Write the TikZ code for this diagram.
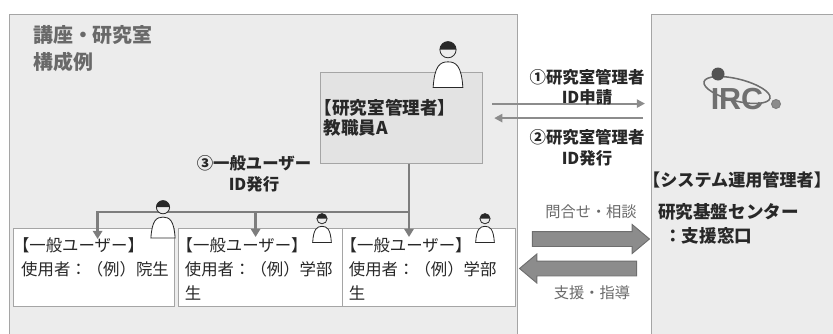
\documentclass[tikz,border=0pt]{standalone}
\usepackage{fontspec}
\setmainfont{Noto Sans CJK JP}
\newfontfamily\logofont{Liberation Sans}
\usepackage{xcolor}
\usepackage{tikz}
\usetikzlibrary{positioning,calc,shapes.arrows,arrows.meta}
\definecolor{roomgray}{RGB}{236,236,236}
\definecolor{edgegray}{RGB}{165,165,165}
\definecolor{linegray}{RGB}{125,125,125}
\definecolor{inkgray}{RGB}{40,40,40}
\definecolor{softgray}{RGB}{105,105,105}
\definecolor{arrowgray}{RGB}{140,140,140}
\definecolor{darkarrow}{RGB}{110,110,110}
\newcommand\lbr{\hspace*{-.5em}【}

\begin{document}
\begin{tikzpicture}[x=0.03cm, y=-0.03cm,
    room/.style = {draw=edgegray, fill=roomgray, line width=1pt, anchor=north west, inner sep=0pt},
    mgrbox/.style = {draw=edgegray, fill=roomgray!96!black, line width=1pt, anchor=north west,
        minimum width=4.86cm, minimum height=2.73cm, text width=4.68cm, inner sep=0.09cm,
        align=left, font=\fontsize{15}{17}\selectfont\bfseries, text=inkgray},
    userbox/.style = {draw=edgegray, fill=white, line width=1pt, anchor=north west,
        minimum height=2.34cm, inner sep=0pt},
    usertext/.style = {inner sep=0pt, align=left, font=\fontsize{14}{20.5}\selectfont, text=inkgray},
    tag/.style = {align=center, inner sep=0pt, font=\fontsize{14}{17.5}\selectfont\bfseries, text=inkgray},
    note/.style = {inner sep=0pt, font=\fontsize{13}{15}\selectfont, text=softgray},
    link/.style = {draw=linegray, line width=2.4pt},
    feed/.style = {link, -{Triangle[length=7pt, width=8pt]}},
    idline/.style = {draw=arrowgray, line width=1.7pt, -{Triangle[length=7pt, width=7pt]}},
    fat/.style = {single arrow, draw=darkarrow, fill=arrowgray, line width=0.8pt,
        inner sep=0.21cm, minimum height=3.51cm, single arrow head extend=0.21cm,
        single arrow head indent=0pt, single arrow tip angle=80},
    person/.pic = {
        \draw[inkgray, line width=0.7pt, fill=white] (-11,30) .. controls (-10,14) and (-6,11) .. (0,11)
            .. controls (6,11) and (10,14) .. (11,30) -- cycle;
        \draw[inkgray, line width=0.7pt, fill=roomgray] (0,2) circle (6);
        \fill[inkgray] (-6,2) arc[start angle=180, end angle=360, radius=6] -- cycle;
    }]
    \useasboundingbox (0,0) rectangle (833,334);

    % the two sides
    \node[room, minimum width=15.24cm, minimum height=10.2cm] (lab) at (9,14) {};
    \node[room, minimum width=6cm, minimum height=10.2cm] (center) at (651,14) {};
    \node[anchor=north west, inner sep=0pt, align=left, text=softgray,
        font=\fontsize{17}{23}\selectfont\bfseries] (labname) at (33,25) {講座・研究室\\構成例};

    % lab manager and users
    \node[mgrbox] (mgr) at (320,72) {\lbr 研究室管理者】\\教職員A};
    \node[userbox, minimum width=4.83cm] (u1) at (13,228) {};
    \node[userbox, minimum width=4.92cm] (u2) at (178,228) {};
    \node[userbox, minimum width=5.19cm] (u3) at (342,228) {};
    \node[usertext, below right=0.27cm and 0.24cm of u1.north west] (u1text) {\lbr 一般ユーザー】\\使用者：（例）院生};
    \node[usertext, below right=0.27cm and 0.2cm of u2.north west] (u2text) {\lbr 一般ユーザー】\\使用者：（例）学部\\生};
    \node[usertext, below right=0.27cm and 0.2cm of u3.north west] (u3text) {\lbr 一般ユーザー】\\使用者：（例）学部\\生};

    % user IDs handed down
    \coordinate (split) at (409,212);
    \coordinate (drop1) at ($(u1.north)+(3.5,11)$);
    \coordinate (drop2) at ($(u2.north)+(-5,9)$);
    \draw[link] (mgr.south -| split) -- (split);
    \draw[feed] (split) -| (drop1);
    \draw[feed] (drop2 |- split) -- (drop2);
    \draw[feed] (split) -- (split |- drop2);
    \node[tag] (grant) at (254,174) {③一般ユーザー\\ID発行};

    % manager ID request and issue
    \draw[idline] ($(mgr.east)+(9,-14.5)$) -- ($(center.west |- mgr.east)+(-6,-14.5)$);
    \draw[idline] ($(center.west |- mgr.east)+(-8,0)$) -- ($(mgr.east)+(11,0)$);
    \node[tag] (req) at (587,87) {①研究室管理者\\ID申請};
    \node[tag] (issue) at (587,147.5) {②研究室管理者\\ID発行};

    % support centre
    \draw[darkarrow, line width=1.3pt, rotate around={-14:(737,90)}] (737,90) ellipse (34 and 11);
    \fill[inkgray!80] (718,74) circle (6.5);
    \node[inner sep=0pt, text=arrowgray!80!black, font=\logofont\fontsize{26}{26}\selectfont\bfseries] (logo) at (737,99) {IRC};
    \draw[inkgray!60, fill=arrowgray, line width=0.8pt] (776,104) circle (4.5);
    \node[anchor=west, inner sep=0pt, font=\fontsize{14.6}{18}\selectfont\bfseries, text=inkgray] (opname)
        at (643,180) {【システム運用管理者】};
    \node[anchor=north west, inner sep=0pt, align=left, font=\fontsize{15}{21}\selectfont\bfseries, text=inkgray] (desk)
        at (658,203) {研究基盤センター\\\hspace*{.35em}：支援窓口};

    % inquiries and support
    \node[fat] (ask) at (586.5,239) {};
    \node[fat, shape border rotate=180] (help) at (582.5,268.5) {};
    \node[note] (askname) at (591,212) {問合せ・相談};
    \node[note] (helpname) at (592,293) {支援・指導};

    % people
    \pic[scale=1.35] at (448,47) {person};
    \pic[scale=1.1] at (163,205) {person};
    \pic[scale=0.85] at (322,217) {person};
    \pic[scale=0.85] at (485,217) {person};
\end{tikzpicture}
\end{document}
